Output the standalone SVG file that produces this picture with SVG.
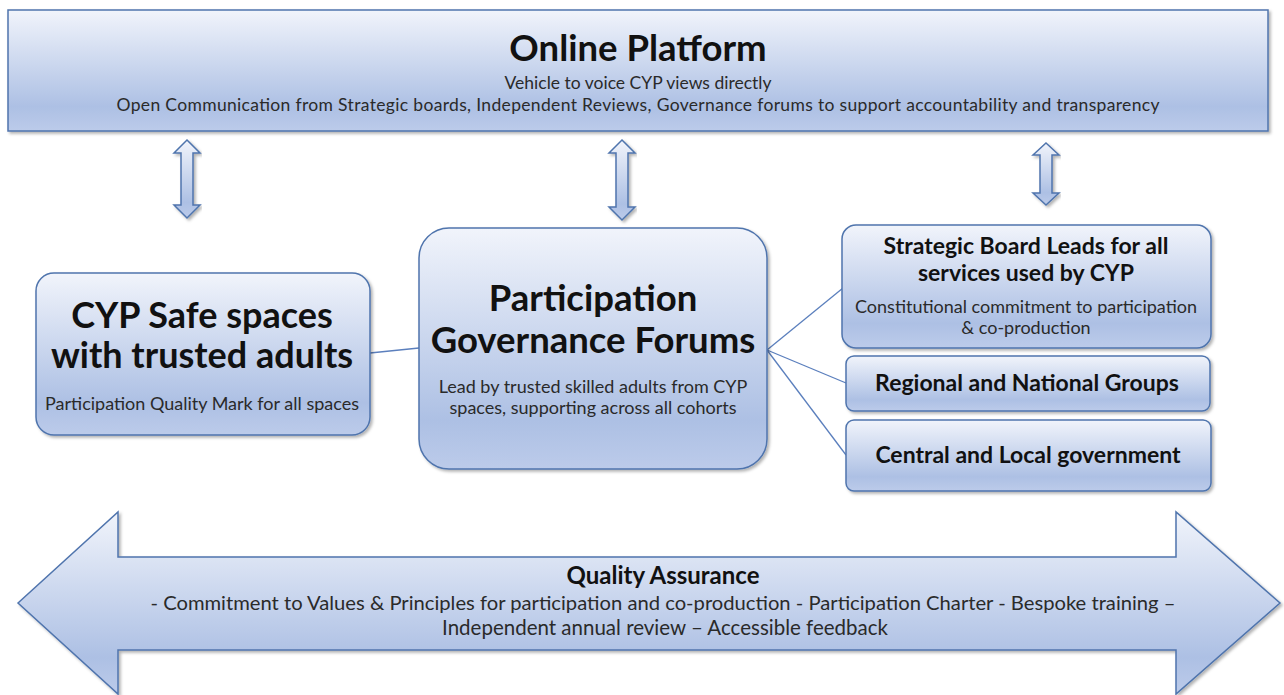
<svg xmlns="http://www.w3.org/2000/svg" width="1284" height="695" viewBox="0 0 1284 695">
  <defs>
    <linearGradient id="fill" x1="0" y1="0" x2="0" y2="1">
      <stop offset="0" stop-color="#f1f4fb"/>
      <stop offset="0.8" stop-color="#adc0e4"/>
      <stop offset="1" stop-color="#bccbea"/>
    </linearGradient>
    <filter id="shadow" x="-5%" y="-5%" width="112%" height="115%">
      <feDropShadow dx="2" dy="2" stdDeviation="1.6" flood-color="#000" flood-opacity="0.3"/>
    </filter>
    <style>
      .box { fill: url(#fill); stroke: #4f74ad; stroke-width: 1.5; filter: url(#shadow); }
      .link { stroke: #5b7fbd; stroke-width: 1.3; fill: none; }
      .t { font-family: Lato, "Open Sans", "Liberation Sans", sans-serif; fill: #111; text-anchor: middle; }
      .b { font-weight: bold; }
      .s { fill: #2a2a2a; }
    </style>
  </defs>

  <!-- top banner -->
  <g id="online-platform">
    <rect class="box" x="8" y="10" width="1260" height="121"/>
    <text class="t b" x="638" y="61" font-size="36.5">Online Platform</text>
    <text class="t s" x="638" y="89" font-size="17.5">Vehicle to voice CYP views directly</text>
    <text class="t s" x="638" y="111" font-size="17.5" textLength="1043" lengthAdjust="spacing">Open Communication  from Strategic boards, Independent Reviews, Governance forums to support accountability and transparency</text>
  </g>

  <!-- vertical two-way arrows under the banner -->
  <g id="updown-arrows">
    <path class="box" d="M187,140 L200,153 L193,153 L193,205 L200,205 L187,218 L174,205 L181,205 L181,153 L174,153 Z"/>
    <path class="box" d="M622,140 L635,153 L628,153 L628,207 L635,207 L622,220 L609,207 L616,207 L616,153 L609,153 Z"/>
    <path class="box" d="M1046,143 L1059,155 L1052,155 L1052,193 L1059,193 L1046,205 L1033,193 L1040,193 L1040,155 L1033,155 Z"/>
  </g>

  <!-- connectors -->
  <g id="connectors">
    <line class="link" x1="370" y1="353" x2="419" y2="348"/>
    <line class="link" x1="767" y1="350" x2="843" y2="288"/>
    <line class="link" x1="767" y1="350" x2="846" y2="383"/>
    <line class="link" x1="767" y1="350" x2="846" y2="455"/>
  </g>

  <g id="safe-spaces">
    <rect class="box" x="36" y="273" width="334" height="162" rx="18"/>
    <text class="t b" x="202" y="328" font-size="36">CYP Safe spaces</text>
    <text class="t b" x="202" y="368" font-size="36">with trusted adults</text>
    <text class="t s" x="202" y="410" font-size="18">Participation Quality Mark for all spaces</text>
  </g>

  <g id="governance-forums">
    <rect class="box" x="419" y="228" width="348" height="241" rx="30"/>
    <text class="t b" x="593" y="311" font-size="36.5">Participation</text>
    <text class="t b" x="593" y="353" font-size="36.5">Governance Forums</text>
    <text class="t s" x="593" y="393" font-size="18">Lead  by trusted skilled adults from CYP</text>
    <text class="t s" x="593" y="414" font-size="18">spaces, supporting across all cohorts</text>
  </g>

  <g id="strategic-board">
    <rect class="box" x="842" y="225" width="369" height="123" rx="14"/>
    <text class="t b" x="1026" y="254" font-size="23">Strategic Board Leads for all</text>
    <text class="t b" x="1026" y="281" font-size="23">services used by CYP</text>
    <text class="t s" x="1026" y="313" font-size="18">Constitutional commitment to participation</text>
    <text class="t s" x="1026" y="334" font-size="18">&amp; co-production</text>
  </g>

  <g id="regional-groups">
    <rect class="box" x="846" y="356" width="364" height="55" rx="8"/>
    <text class="t b" x="1027" y="391" font-size="23">Regional and National Groups</text>
  </g>

  <g id="government">
    <rect class="box" x="846" y="420" width="365" height="71" rx="8"/>
    <text class="t b" x="1028" y="463" font-size="23">Central and Local government</text>
  </g>

  <!-- wide two-way arrow along the bottom -->
  <g id="quality-assurance">
    <path class="box" d="M18,603 L118,512 L118,557 L1176,557 L1176,512 L1280,603 L1176,694 L1176,650 L118,650 L118,694 Z"/>
    <text class="t b" x="663" y="584" font-size="24">Quality Assurance</text>
    <text class="t s" x="663" y="610" font-size="20" textLength="1025" lengthAdjust="spacingAndGlyphs">- Commitment to Values &amp; Principles for participation and co-production  - Participation Charter - Bespoke training –</text>
    <text class="t s" x="665" y="635" font-size="20.5">Independent annual review – Accessible feedback</text>
  </g>
</svg>
